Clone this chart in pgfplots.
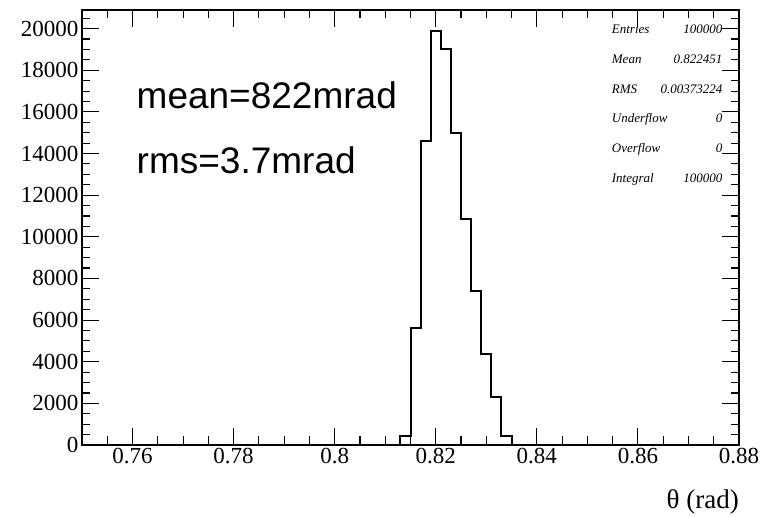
\documentclass[border=0pt]{standalone}
\usepackage{pgfplots}
\pgfplotsset{compat=1.18}
\usepackage{fontspec}
\setmainfont{Liberation Serif}
\newfontfamily\arialfont{Liberation Sans}
\pgfplotstableread{
x y
0.750 0
0.813 450
0.815 5600
0.817 14600
0.819 19900
0.821 19000
0.823 15000
0.825 10850
0.827 7400
0.829 4350
0.831 2300
0.833 450
0.835 0
0.880 0
}\histdata
\begin{document}
\begin{tikzpicture}[x=1pt,y=1pt]
\path (0,0) rectangle (764,517);
\begin{axis}[
  at={(82pt,72pt)}, anchor=south west,
  scale only axis, width=657pt, height=435pt,
  xmin=0.75, xmax=0.88, ymin=0, ymax=20895,
  xtick={0.76,0.78,0.8,0.82,0.84,0.86,0.88},
  xticklabels={0.76,0.78,0.8,0.82,0.84,0.86,0.88},
  ytick={0,2000,4000,6000,8000,10000,12000,14000,16000,18000,20000},
  yticklabels={0,2000,4000,6000,8000,10000,12000,14000,16000,18000,20000},
  minor xtick={0.755,0.765,0.77,0.775,0.785,0.79,0.795,0.805,0.81,0.815,0.825,0.83,0.835,0.845,0.85,0.855,0.865,0.87,0.875},
  minor ytick={500,1000,1500,2500,3000,3500,4500,5000,5500,6500,7000,7500,8500,9000,9500,10500,11000,11500,12500,13000,13500,14500,15000,15500,16500,17000,17500,18500,19000,19500,20500},
  scaled ticks=false,
  tick align=inside,
  major tick length=17pt, minor tick length=8.5pt,
  tick style={black, line width=1.1pt},
  axis line style={black, line width=1.8pt},
  /pgf/number format/assume math mode=true,
  tick label style={font=\fontsize{23}{23}\selectfont},
  xlabel={θ (rad)},
  xlabel style={at={(rel axis cs:1,0)}, anchor=base east, inner sep=0pt, yshift=-64pt, font=\fontsize{27}{27}\selectfont},
]
\addplot[const plot, black, line width=2pt, line join=miter] table[x=x, y=y] {\histdata};
\end{axis}
\begin{scope}[font=\arialfont\fontsize{37}{37}\selectfont]
\node[anchor=base west, inner sep=0pt] at (136.5,408) {mean=822mrad};
\node[anchor=base west, inner sep=0pt] at (136.5,343) {rms=3.7mrad};
\end{scope}
\begin{scope}[font=\itshape\fontsize{13}{13}\selectfont]
\node[anchor=base west, inner sep=0pt] at (611.7,483.7) {Entries};
\node[anchor=base east, inner sep=0pt] at (722.5,483.7) {100000};
\node[anchor=base west, inner sep=0pt] at (611.7,453.8) {Mean};
\node[anchor=base east, inner sep=0pt] at (722.5,453.8) {0.822451};
\node[anchor=base west, inner sep=0pt] at (611.7,423.9) {RMS};
\node[anchor=base east, inner sep=0pt] at (722.5,423.9) {0.00373224};
\node[anchor=base west, inner sep=0pt] at (611.7,394.0) {Underflow};
\node[anchor=base east, inner sep=0pt] at (722.5,394.0) {0};
\node[anchor=base west, inner sep=0pt] at (611.7,364.1) {Overflow};
\node[anchor=base east, inner sep=0pt] at (722.5,364.1) {0};
\node[anchor=base west, inner sep=0pt] at (611.7,334.2) {Integral};
\node[anchor=base east, inner sep=0pt] at (722.5,334.2) {100000};
\end{scope}
\end{tikzpicture}
\end{document}
